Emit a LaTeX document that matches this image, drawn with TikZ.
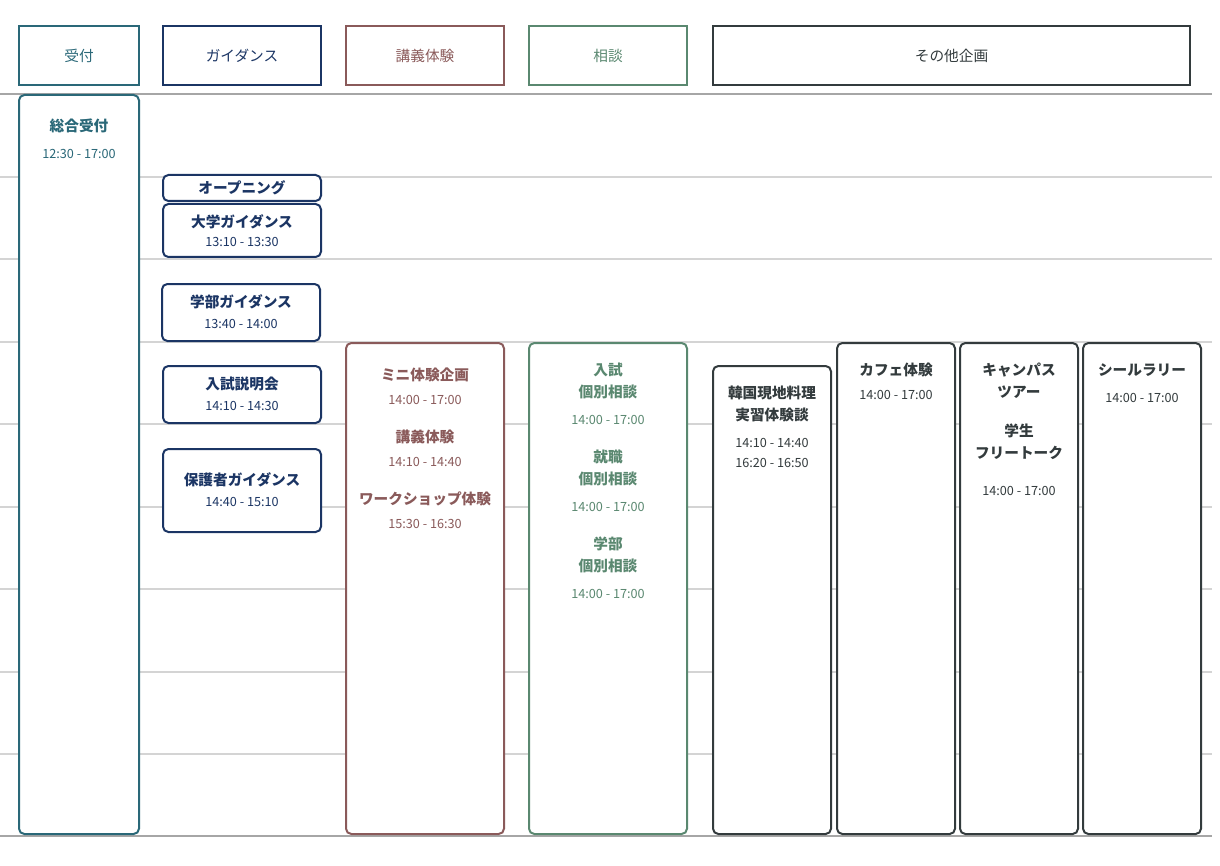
\documentclass[tikz,border=0pt]{standalone}
\usepackage{fontspec}
\setmainfont{Noto Sans CJK JP}
\definecolor{cA}{HTML}{2A6878}
\definecolor{cB}{HTML}{1B3564}
\definecolor{cC}{HTML}{8A5A5A}
\definecolor{cD}{HTML}{5A8870}
\definecolor{cE}{HTML}{333B3D}
\definecolor{gl}{HTML}{D4D4D4}
\begin{document}
\begin{tikzpicture}[x=0.75pt,y=-0.75pt,
 hd/.style={draw=#1,line width=1.5pt,text=#1,font=\fontsize{11}{13}\selectfont},
 ev/.style={draw=#1,line width=1.5pt,rounded corners=4pt},
 tt/.style={text=#1,font=\bfseries\fontsize{11}{13}\selectfont},
 tm/.style={text=#1,font=\fontsize{9.5}{11}\selectfont}]
\useasboundingbox (0,0) rectangle (1220,866);
\foreach \y in {177,259,342,424,507,589,672,754} \draw[gl,line width=1pt] (0,\y) -- (1212,\y);
\draw[gray!70,line width=1.2pt] (0,94) -- (1212,94);
\draw[gray!70,line width=1.2pt] (0,836) -- (1212,836);
% headers
\draw[hd=cA] (19,26) rectangle (139,85) node[midway,cA] (h1) {受付};
\draw[hd=cB] (163,26) rectangle (321,85) node[midway,cB] (h2) {ガイダンス};
\draw[hd=cC] (346,26) rectangle (504,85) node[midway,cC] (h3) {講義体験};
\draw[hd=cD] (529,26) rectangle (687,85) node[midway,cD] (h4) {相談};
\draw[hd=cE] (713,26) rectangle (1190,85) node[midway,cE,font=\fontsize{11}{13}\selectfont] (h5) {その他企画};
% reception
\draw[ev=cA,fill=white] (19,95) rectangle (139,834);
\node[tt=cA] (a1) at (79,126) {総合受付};
\node[tm=cA] (a2) at (79,154) {12:30 - 17:00};
% guidance
\draw[ev=cB,fill=white] (163,175) rectangle (321,201);
\node[tt=cB] (b0) at (242,188) {オープニング};
\draw[ev=cB,fill=white] (163,204) rectangle (321,257);
\node[tt=cB] (b1) at (242,222) {大学ガイダンス};
\node[tm=cB] (b1t) at (242,242) {13:10 - 13:30};
\draw[ev=cB,fill=white] (162,284) rectangle (320,341);
\node[tt=cB] (b2) at (241,302) {学部ガイダンス};
\node[tm=cB] (b2t) at (241,324) {13:40 - 14:00};
\draw[ev=cB,fill=white] (163,366) rectangle (321,423);
\node[tt=cB] (b3) at (242,384) {入試説明会};
\node[tm=cB] (b3t) at (242,406) {14:10 - 14:30};
\draw[ev=cB,fill=white] (163,449) rectangle (321,532);
\node[tt=cB] (b4) at (242,480) {保護者ガイダンス};
\node[tm=cB] (b4t) at (242,502) {14:40 - 15:10};
% lecture
\draw[ev=cC,fill=white] (346,343) rectangle (504,834);
\node[tt=cC] (c1) at (425,375) {ミニ体験企画};
\node[tm=cC] (c1t) at (425,400) {14:00 - 17:00};
\node[tt=cC] (c2) at (425,437) {講義体験};
\node[tm=cC] (c2t) at (425,462) {14:10 - 14:40};
\node[tt=cC] (c3) at (425,499) {ワークショップ体験};
\node[tm=cC] (c3t) at (425,524) {15:30 - 16:30};
% consult
\draw[ev=cD,fill=white] (529,343) rectangle (687,834);
\node[tt=cD] (d1) at (608,370) {入試};
\node[tt=cD] (d1b) at (608,392) {個別相談};
\node[tm=cD] (d1t) at (608,420) {14:00 - 17:00};
\node[tt=cD] (d2) at (608,457) {就職};
\node[tt=cD] (d2b) at (608,479) {個別相談};
\node[tm=cD] (d2t) at (608,507) {14:00 - 17:00};
\node[tt=cD] (d3) at (608,544) {学部};
\node[tt=cD] (d3b) at (608,566) {個別相談};
\node[tm=cD] (d3t) at (608,594) {14:00 - 17:00};
% others
\draw[ev=cE,fill=white] (713,366) rectangle (831,834);
\node[tt=cE] (e1) at (772,393) {韓国現地料理};
\node[tt=cE] (e1b) at (772,415) {実習体験談};
\node[tm=cE] (e1t) at (772,443) {14:10 - 14:40};
\node[tm=cE] (e1u) at (772,463) {16:20 - 16:50};
\draw[ev=cE,fill=white] (837,343) rectangle (955,834);
\node[tt=cE] (e2) at (896,370) {カフェ体験};
\node[tm=cE] (e2t) at (896,395) {14:00 - 17:00};
\draw[ev=cE,fill=white] (960,343) rectangle (1078,834);
\node[tt=cE] (e3) at (1019,370) {キャンパス};
\node[tt=cE] (e3b) at (1019,392) {ツアー};
\node[tt=cE] (e3c) at (1019,431) {学生};
\node[tt=cE] (e3d) at (1019,453) {フリートーク};
\node[tm=cE] (e3t) at (1019,491) {14:00 - 17:00};
\draw[ev=cE,fill=white] (1083,343) rectangle (1201,834);
\node[tt=cE] (e4) at (1142,370) {シールラリー};
\node[tm=cE] (e4t) at (1142,398) {14:00 - 17:00};
\end{tikzpicture}
\end{document}
